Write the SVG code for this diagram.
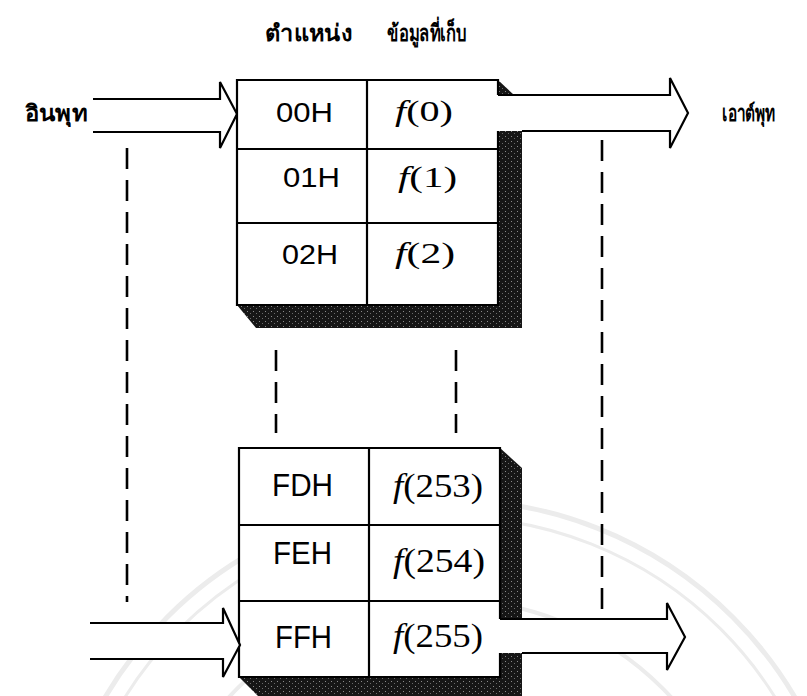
<svg xmlns="http://www.w3.org/2000/svg" width="807" height="696" viewBox="0 0 807 696">
  <defs>
    <pattern id="stipple" width="6" height="5" patternUnits="userSpaceOnUse">
      <rect width="6" height="5" fill="#161616"/>
      <rect x="1" y="1" width="1" height="1" fill="#8a8a8a"/>
      <rect x="4" y="3" width="1" height="1" fill="#6a6a6a"/>
    </pattern>
  </defs>
  <style>
    .line { fill: none; stroke: #000; stroke-width: 2.2; stroke-linejoin: miter; }
    .arrow { fill: #fff; stroke: #000; stroke-width: 2.2; stroke-linejoin: miter; }
    .cell { fill: #fff; stroke: none; }
    .shadow { fill: url(#stipple); stroke: none; }
    .dash { fill: none; stroke: #000; stroke-width: 2.6; stroke-dasharray: 21 11; }
    .addr { font-family: "Liberation Sans", Arial, sans-serif; fill: #000; }
    .fx { font-family: "Liberation Serif", "Times New Roman", serif; fill: #000; }
    .thai { font-family: "Noto Sans", "DejaVu Sans", sans-serif; font-weight: bold; fill: #000; }
    .wm { fill: none; stroke: #ececec; }
  </style>
  <rect width="807" height="696" fill="#fff"/>

  <g id="watermark">
    <circle class="wm" cx="450" cy="900" r="400" stroke-width="5"/>
    <circle class="wm" cx="450" cy="900" r="383" stroke-width="3"/>
    <circle class="wm" cx="450" cy="900" r="300" stroke-width="4"/>
  </g>

  <g id="headers">
    <text class="thai" x="265" y="41" font-size="23" textLength="87" lengthAdjust="spacingAndGlyphs">ตำแหน่ง</text>
    <text class="thai" x="387" y="41" font-size="23" textLength="80" lengthAdjust="spacingAndGlyphs">ข้อมูลที่เก็บ</text>
  </g>

  <g id="input-label">
    <text class="thai" x="25" y="121" font-size="22" textLength="63" lengthAdjust="spacingAndGlyphs">อินพุท</text>
  </g>
  <g id="output-label">
    <text class="thai" x="722" y="121" font-size="22" textLength="54" lengthAdjust="spacingAndGlyphs">เอาต์พุท</text>
  </g>

  <g id="connectors">
    <line class="dash" x1="127" y1="148" x2="127" y2="602"/>
    <line class="dash" x1="602" y1="108" x2="602" y2="614"/>
    <line class="dash" x1="276" y1="350" x2="276" y2="433"/>
    <line class="dash" x1="456" y1="350" x2="456" y2="433"/>
  </g>

  <g id="input-top">
    <polyline class="arrow" points="93,99 220,99 220,82 237,114 220,148 220,132 93,132"/>
  </g>

  <g id="table-top">
    <polygon class="shadow" points="498,80 514,95 498,95"/>
    <polygon class="shadow" points="498,131 522,131 522,328 256,328 237,305 498,305"/>
    <rect class="cell" x="237" y="80" width="261" height="225"/>
    <polyline class="line" points="498,95 498,80 237,80 237,305 498,305 498,131"/>
    <line class="line" x1="367" y1="80" x2="367" y2="305"/>
    <line class="line" x1="237" y1="149" x2="498" y2="149"/>
    <line class="line" x1="237" y1="223" x2="498" y2="223"/>
    <text class="addr" x="276" y="122" font-size="27" textLength="57" lengthAdjust="spacingAndGlyphs">00H</text>
    <text class="addr" x="283" y="187" font-size="27" textLength="57" lengthAdjust="spacingAndGlyphs">01H</text>
    <text class="addr" x="282" y="264" font-size="27" textLength="56" lengthAdjust="spacingAndGlyphs">02H</text>
    <text class="fx" x="395" y="121" font-size="30" textLength="58" lengthAdjust="spacingAndGlyphs"><tspan font-style="italic">f</tspan>(0)</text>
    <text class="fx" x="398" y="187" font-size="30" textLength="59" lengthAdjust="spacingAndGlyphs"><tspan font-style="italic">f</tspan>(1)</text>
    <text class="fx" x="395" y="263" font-size="30" textLength="60" lengthAdjust="spacingAndGlyphs"><tspan font-style="italic">f</tspan>(2)</text>
  </g>

  <g id="output-top">
    <polyline class="arrow" points="498,95 670,95 670,78 688,113 670,148 670,131 522,131"/>
  </g>

  <g id="table-bottom">
    <polygon class="shadow" points="500,448 522,468 522,619 500,619"/>
    <polygon class="shadow" points="500,653 522,653 522,696 258,696 239,677 500,677"/>
    <rect class="cell" x="239" y="448" width="261" height="229"/>
    <polyline class="line" points="500,619 500,448 239,448 239,677 500,677 500,653"/>
    <line class="line" x1="369" y1="448" x2="369" y2="677"/>
    <line class="line" x1="239" y1="525" x2="500" y2="525"/>
    <line class="line" x1="239" y1="601" x2="500" y2="601"/>
    <text class="addr" x="272" y="496" font-size="31" textLength="61" lengthAdjust="spacingAndGlyphs">FDH</text>
    <text class="addr" x="273" y="564" font-size="31" textLength="59" lengthAdjust="spacingAndGlyphs">FEH</text>
    <text class="addr" x="275" y="648" font-size="31" textLength="57" lengthAdjust="spacingAndGlyphs">FFH</text>
    <text class="fx" x="393" y="497" font-size="34" textLength="90" lengthAdjust="spacingAndGlyphs"><tspan font-style="italic">f</tspan>(253)</text>
    <text class="fx" x="393" y="572" font-size="34" textLength="92" lengthAdjust="spacingAndGlyphs"><tspan font-style="italic">f</tspan>(254)</text>
    <text class="fx" x="393" y="647" font-size="34" textLength="90" lengthAdjust="spacingAndGlyphs"><tspan font-style="italic">f</tspan>(255)</text>
  </g>

  <g id="input-bottom">
    <polyline class="arrow" points="90,623 223,623 223,608 240,645 223,677 223,659 90,659"/>
  </g>

  <g id="output-bottom">
    <polyline class="arrow" points="500,619 667,619 667,603 685,637 667,670 667,653 522,653"/>
  </g>
</svg>
